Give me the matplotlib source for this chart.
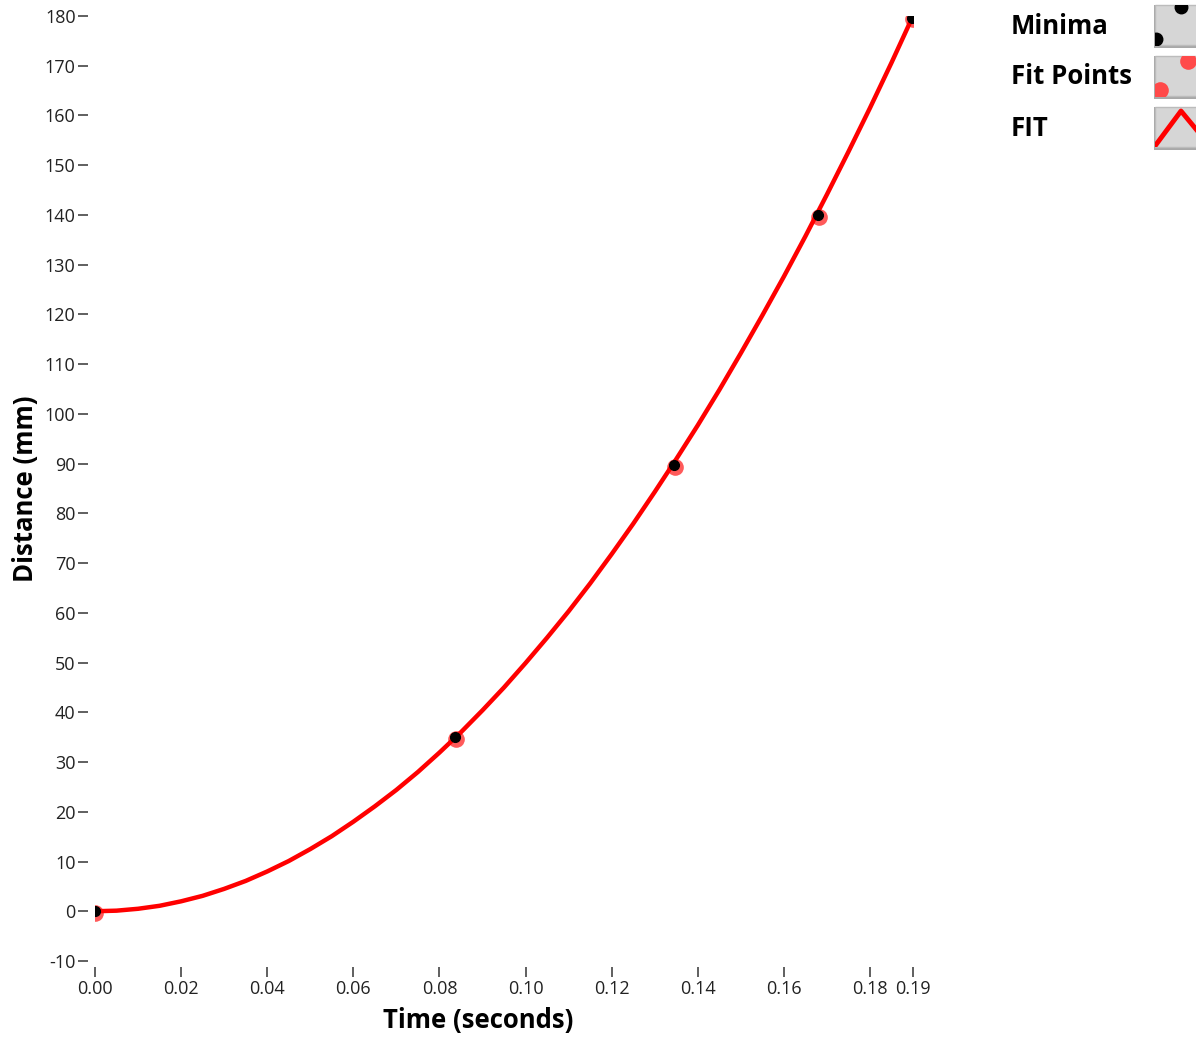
import numpy as np
import matplotlib
matplotlib.use("Agg")
import matplotlib.pyplot as plt
from matplotlib.patches import Rectangle

plt.rcParams["font.family"] = ["Open Sans", "DejaVu Sans"]
plt.rcParams["axes.unicode_minus"] = False

# measured minima / fit points (time in s, distance in mm)
minima_t = [0.0, 0.0836, 0.1345, 0.168, 0.1898]
minima_d = [0.0, 35.0, 89.8, 140.0, 179.6]
fit_pts_t = [0.0, 0.0838, 0.1347, 0.1682, 0.19]
fit_pts_d = [-0.3, 34.7, 89.4, 139.6, 179.3]

# fit curve
fit_t = [0.0, 0.005, 0.01, 0.015, 0.02, 0.025, 0.03, 0.035, 0.04, 0.045,
         0.05, 0.055, 0.06, 0.065, 0.07, 0.075, 0.08, 0.085, 0.09, 0.095,
         0.10, 0.105, 0.11, 0.115, 0.12, 0.125, 0.13, 0.135, 0.14, 0.145,
         0.15, 0.155, 0.16, 0.165, 0.17, 0.175, 0.18, 0.185, 0.19]
fit_d = [0.0, 0.12, 0.5, 1.1, 2.0, 3.1, 4.5, 6.1, 8.0, 10.1,
         12.5, 15.1, 18.0, 21.1, 24.4, 28.0, 31.9, 36.0, 40.4, 45.0,
         49.9, 55.0, 60.3, 65.9, 71.8, 77.9, 84.3, 90.9, 97.7, 104.8,
         112.2, 119.8, 127.6, 135.7, 144.1, 152.7, 161.5, 170.6, 180.0]

x_ticks = [0.00, 0.02, 0.04, 0.06, 0.08, 0.10, 0.12, 0.14, 0.16, 0.18, 0.19]
y_ticks = list(range(-10, 181, 10))
legend_names = ["Minima", "Fit Points", "FIT"]

fig = plt.figure(figsize=(11.96, 10.38), dpi=100)
ax = fig.add_axes([95 / 1196, 1 - 961 / 1038, (913 - 95) / 1196, (961 - 16) / 1038])

ax.plot(fit_pts_t, fit_pts_d, "o", color="#ff5a5a", ms=12, mec="none", zorder=2)
ax.plot(fit_t, fit_d, "-", color="#ff0000", lw=3.2, zorder=3)
ax.plot(minima_t, minima_d, "o", color="black", ms=7, zorder=4)

ax.set_xlim(0, 0.19)
ax.set_ylim(-10, 180)
ax.set_xticks(x_ticks)
ax.set_xticklabels([f"{v:.2f}" for v in x_ticks])
ax.set_yticks(y_ticks)
for s in ax.spines.values():
    s.set_visible(False)
ax.tick_params(axis="both", colors="#444444", labelsize=13, length=7, width=1.2)
ax.tick_params(axis="y", pad=2)
ax.tick_params(axis="x", pad=3)
ax.spines["left"].set_position(("outward", 5))
ax.spines["bottom"].set_position(("outward", 4))
for lab in ax.get_xticklabels() + ax.get_yticklabels():
    lab.set_color("#222222")

ax.set_xlabel("Time (seconds)", fontsize=18.5, fontweight="bold")
ax.set_ylabel("Distance (mm)", fontsize=18.5, fontweight="bold", labelpad=4)
ax.xaxis.set_label_coords(0.469, -0.049)

# legend in the LabVIEW style, drawn on an overlay in pixel coordinates
lg = fig.add_axes([0, 0, 1, 1])
lg.set_xlim(0, 1196)
lg.set_ylim(1038, 0)
lg.axis("off")
rows_y = [26, 77, 128]
boxes = []
for name, yc in zip(legend_names, rows_y):
    lg.text(1011, yc, name, fontsize=18.5, fontweight="bold", va="center", ha="left")
    lg.add_patch(Rectangle((1154, yc - 21), 44, 43, facecolor="#a8a8a8",
                           edgecolor="none"))
    inner = Rectangle((1155, yc - 21), 44, 40, facecolor="#d6d6d6",
                      edgecolor="#bcbcbc", lw=1)
    lg.add_patch(inner)
    boxes.append(inner)

marks = []
marks += lg.plot([1181], [7], "o", color="black", ms=9)
marks += lg.plot([1156], [39], "o", color="black", ms=9)
for m in marks:
    m.set_clip_path(boxes[0])
reds = []
reds += lg.plot([1188], [61], "o", color="#ff4a4a", ms=12, mec="none")
reds += lg.plot([1160], [90], "o", color="#ff4a4a", ms=12, mec="none")
for m in reds:
    m.set_clip_path(boxes[1])
fit_icon = lg.plot([1155, 1181, 1200], [146, 111, 134], "-", color="#ff0000", lw=3.5)
fit_icon[0].set_clip_path(boxes[2])

fig.savefig("out.png", dpi=100)
